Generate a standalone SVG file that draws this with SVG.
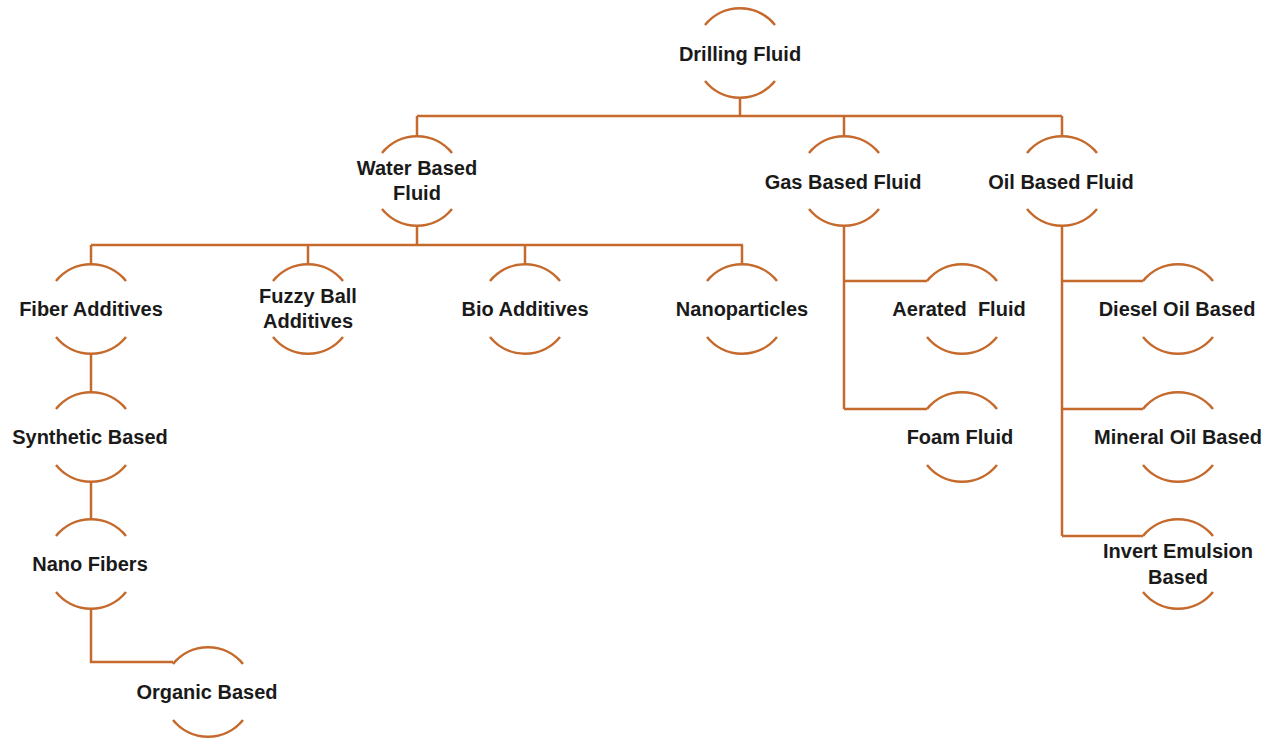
<svg xmlns="http://www.w3.org/2000/svg" xmlns:xlink="http://www.w3.org/1999/xlink" width="1276" height="740" viewBox="0 0 1276 740">
<style>
.arc{fill:none;stroke:#C56A2C;stroke-width:2.5}
.conn path{fill:none;stroke:#C56A2C;stroke-width:2.5}
text{font-family:"Liberation Sans",Arial,sans-serif;font-weight:bold;font-size:20px;fill:#1a1a1a;text-anchor:middle}
</style>
<defs>
<path id="node" class="arc" d="M-35 -28 A45 45 0 0 1 35 -28 M-35 28 A45 45 0 0 0 35 28"/>
</defs>
<rect width="1276" height="740" fill="#fff"/>
<g id="connectors" class="conn">
<path d="M740 98 V116 M417 116 H1062 M417 116 V136 M844 116 V136 M1062 116 V136"/>
<path d="M417 226 V245 M91 245 H743 M91 245 V264 M308 245 V264 M525 245 V264 M742 245 V264"/>
<path d="M91 354 V392 M91 482 V519 M91 609 V662 H173"/>
<path d="M844 226 V409 M844 281 H927 M844 409 H927"/>
<path d="M1062 226 V536 M1062 281 H1143 M1062 409 H1143 M1062 536 H1143"/>
</g>
<g id="drilling-fluid"><use xlink:href="#node" x="740" y="53"/><text x="740" y="61">Drilling Fluid</text></g>
<g id="water-based"><use xlink:href="#node" x="417" y="181"/><text x="417" y="175">Water Based</text><text x="417" y="200">Fluid</text></g>
<g id="gas-based"><use xlink:href="#node" x="844" y="181"/><text x="843" y="189">Gas Based Fluid</text></g>
<g id="oil-based"><use xlink:href="#node" x="1062" y="181"/><text x="1061" y="189">Oil Based Fluid</text></g>
<g id="fiber-additives"><use xlink:href="#node" x="91" y="309"/><text x="91" y="316">Fiber Additives</text></g>
<g id="fuzzy-ball"><use xlink:href="#node" x="308" y="309"/><text x="308" y="303">Fuzzy Ball</text><text x="308" y="328">Additives</text></g>
<g id="bio-additives"><use xlink:href="#node" x="525" y="309"/><text x="525" y="316">Bio Additives</text></g>
<g id="nanoparticles"><use xlink:href="#node" x="742" y="309"/><text x="742" y="316">Nanoparticles</text></g>
<g id="aerated-fluid"><use xlink:href="#node" x="962" y="309"/><text x="959" y="316">Aerated&#160; Fluid</text></g>
<g id="foam-fluid"><use xlink:href="#node" x="962" y="437"/><text x="960" y="444">Foam Fluid</text></g>
<g id="diesel-oil"><use xlink:href="#node" x="1178" y="309"/><text x="1177" y="316">Diesel Oil Based</text></g>
<g id="mineral-oil"><use xlink:href="#node" x="1178" y="437"/><text x="1178" y="444">Mineral Oil Based</text></g>
<g id="invert-emulsion"><use xlink:href="#node" x="1178" y="564"/><text x="1178" y="558">Invert Emulsion</text><text x="1178" y="584">Based</text></g>
<g id="synthetic-based"><use xlink:href="#node" x="91" y="437"/><text x="90" y="444">Synthetic Based</text></g>
<g id="nano-fibers"><use xlink:href="#node" x="91" y="564"/><text x="90" y="571">Nano Fibers</text></g>
<g id="organic-based"><use xlink:href="#node" x="208" y="692"/><text x="207" y="699">Organic Based</text></g>
</svg>
